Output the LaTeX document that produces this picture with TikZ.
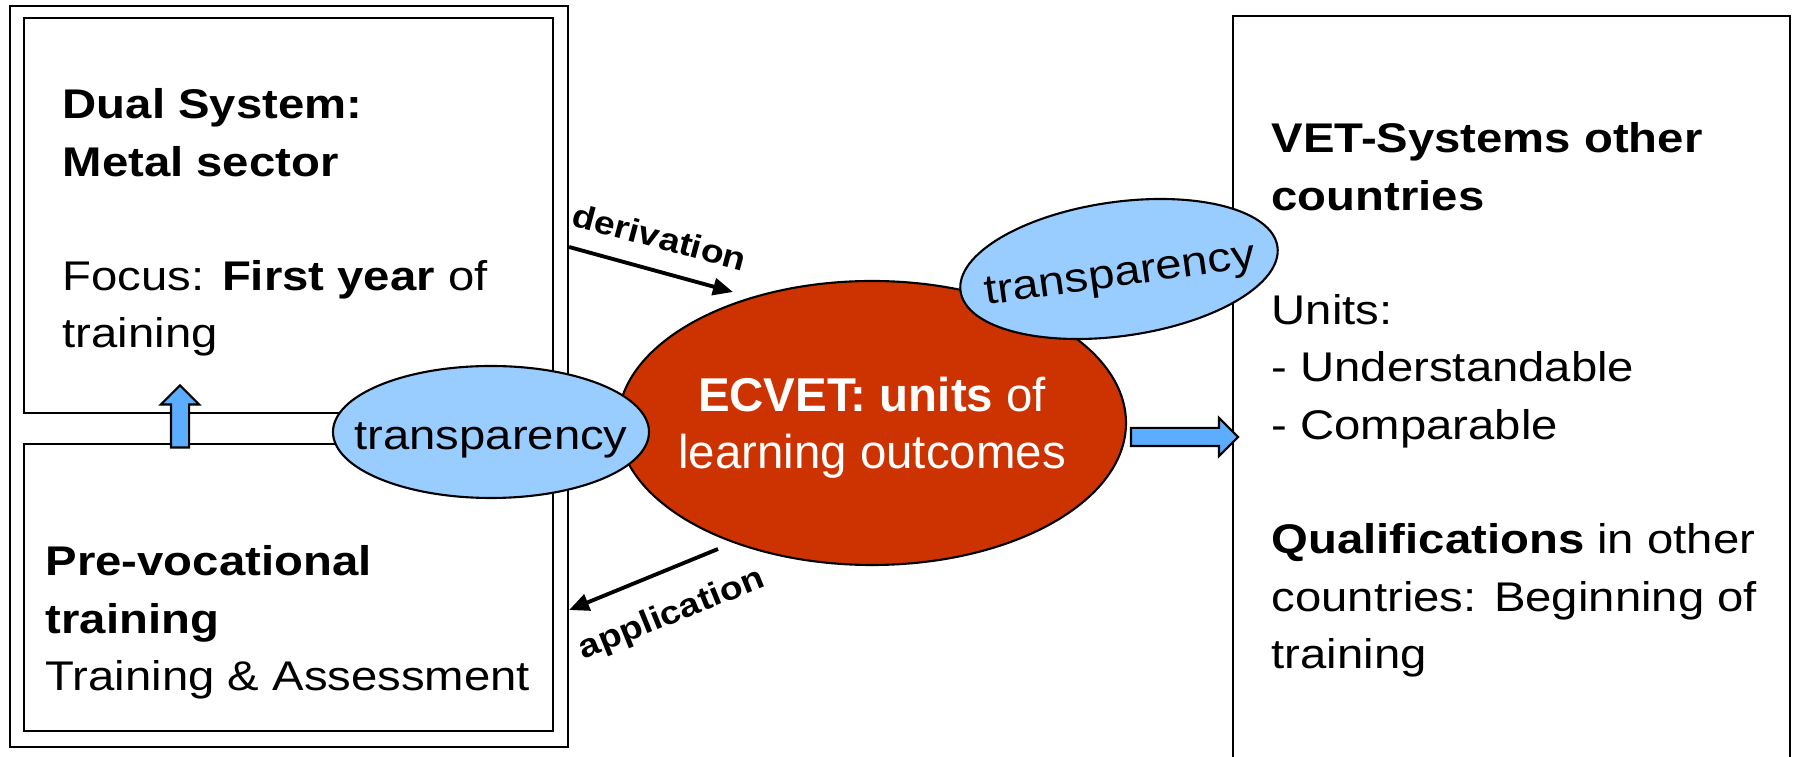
\documentclass[tikz,border=0pt]{standalone}
\usepackage{fontspec}
\setmainfont{Liberation Sans}[FakeStretch=1.14]
\newfontfamily\ecvetfont{Liberation Sans}
\usepackage{xcolor}
\usetikzlibrary{shapes.geometric,shapes.arrows,arrows.meta,positioning}

\definecolor{ecvetred}{HTML}{CC3300}
\definecolor{transblue}{HTML}{99CCFF}
\definecolor{arrowblue}{HTML}{5CADFF}

\begin{document}
\begin{tikzpicture}[
    box/.style={draw, line width=0.6pt, inner sep=0pt, anchor=north west},
    boxtext/.style={align=left, anchor=north west, inner sep=0pt,
        font=\fontsize{11.8}{16.3}\selectfont},
    transp/.style={ellipse, draw, fill=transblue, line width=0.6pt, inner sep=0pt,
        minimum width=3.16cm, minimum height=1.32cm},
    transptext/.style={inner sep=0pt, font=\fontsize{11.8}{14}\selectfont},
    blockarrow/.style={single arrow, draw, fill=arrowblue, line width=0.6pt,
        inner xsep=0pt, inner ysep=0.08cm, minimum width=0.36cm,
        single arrow head extend=0.1cm},
    flow/.style={line width=1.1pt, -{Triangle[length=0.2cm,width=0.17cm]}},
    flowlabel/.style={inner sep=0pt, font=\fontsize{9.3}{11}\selectfont\bfseries}
]
\useasboundingbox (0,0) rectangle (17.97,-7.57);

% national side: frame with the two systems
\node[box, minimum width=5.58cm, minimum height=7.41cm] (national) at (0.09,-0.05) {};
\node[box, minimum width=5.29cm, minimum height=3.95cm] (dual) at (0.23,-0.17) {};
\node[box, minimum width=5.29cm, minimum height=2.87cm] (prevoc) at (0.23,-4.43) {};
% other countries, open at the bottom
\node[box, minimum width=5.57cm, minimum height=7.7cm] (vet) at (12.32,-0.15) {};

\node[boxtext] (dualtext) at (0.62,-0.88)
    {\textbf{Dual System:}\\\textbf{Metal sector}\\[16.3pt]Focus: \textbf{First year} of\\training};
\node[boxtext] (prevoctext) at (0.45,-5.45)
    {\textbf{Pre-vocational}\\\textbf{training}\\Training \& Assessment};
\node[boxtext] (vettext) at (12.71,-1.22)
    {\textbf{VET-Systems other}\\\textbf{countries}\\[16.3pt]Units:\\- Understandable\\- Comparable\\[16.3pt]%
     \textbf{Qualifications} in other\\countries: Beginning of\\training};

% ECVET in the middle
\node[ellipse, draw, fill=ecvetred, line width=0.6pt, inner sep=0pt,
    minimum width=5.08cm, minimum height=2.84cm] (ecvet) at (8.72,-4.23) {};
\node[text=white, align=center, inner sep=0pt, yshift=-0.045cm,
    font=\ecvetfont\fontsize{13.5}{16.2}\selectfont] (ecvettext) at (ecvet)
    {\textbf{ECVET: units} of\\learning outcomes};

% transparency on both sides
\node[transp] (transleft) at (4.91,-4.32) {};
\node[transptext, yshift=-0.08cm] (translefttext) at (transleft) {transparency};
\node[transp, rotate=8, minimum width=3.20cm, minimum height=1.34cm] (transright) at (11.19,-2.69) {};
\node[transptext, rotate=8, yshift=-0.08cm] (transrighttext) at (transright) {transparency};

% block arrows
\node[blockarrow, minimum height=0.62cm, rotate=90] (uparrow) at (1.80,-4.21) {};
\node[blockarrow, minimum height=1.07cm] (toforeign) at (11.80,-4.37) {};

% derivation and application
\coordinate (derivtip) at (7.33,-2.92);
\draw[flow] (national.east |- 0,-2.47) -- (derivtip);
\node[flowlabel, rotate=-15] (derivlabel) at (6.60,-2.37) {derivation};
\coordinate (applstart) at (7.18,-5.49);
\draw[flow] (applstart) -- (national.east |- 0,-6.10);
\node[flowlabel, rotate=22] (appllabel) at (6.72,-6.15) {application};
\end{tikzpicture}
\end{document}
